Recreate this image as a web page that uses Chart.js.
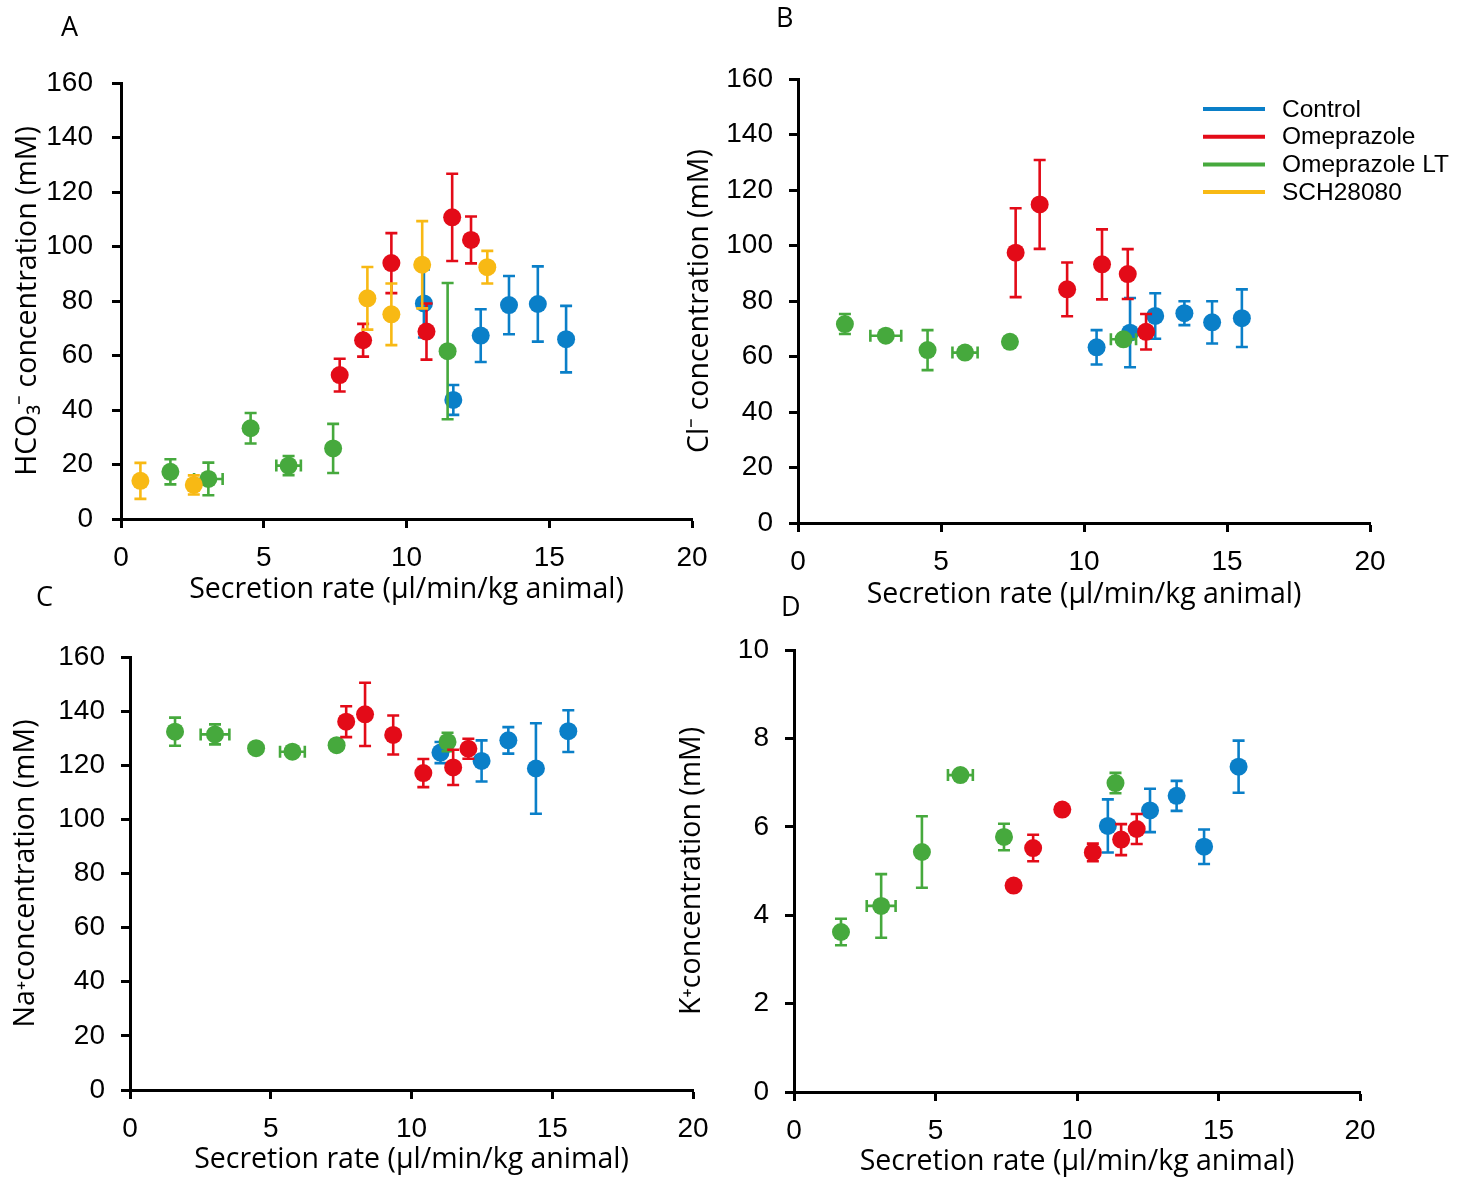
<!DOCTYPE html>
<html>
<head>
<meta charset="utf-8">
<title>Secretion rate vs ion concentration</title>
<script src="https://cdn.jsdelivr.net/npm/chart.js@4.4.1/dist/chart.umd.min.js"></script>
<style>
  body { margin: 0; background: #fff; width: 1464px; height: 1179px; position: relative; overflow: hidden; }
  canvas { position: absolute; }
  .tag { position: absolute; font-family: 'Open Sans', sans-serif; font-size: 27px; line-height: 1; color: #000; }
</style>
</head>
<body>
<canvas id="panelA" width="732" height="620" style="left:0;top:0"></canvas>
<canvas id="panelB" width="794" height="620" style="left:670px;top:0"></canvas>
<canvas id="panelC" width="732" height="579" style="left:0;top:600px"></canvas>
<canvas id="panelD" width="804" height="579" style="left:660px;top:600px"></canvas>
<div class="tag" style="left:61px;top:12px">A</div>
<div class="tag" style="left:776px;top:3px">B</div>
<div class="tag" style="left:36px;top:582px">C</div>
<div class="tag" style="left:781px;top:592px">D</div>
<script>
// series: Control, Omeprazole, Omeprazole LT, SCH28080
const seriesNames = ['Control', 'Omeprazole', 'Omeprazole LT', 'SCH28080'];
const seriesColors = ['#0a7fc8', '#e30b18', '#46a93d', '#f8b914'];

const rateTicks = [0, 5, 10, 15, 20];

// each row: [secretion rate, concentration, conc error, rate error]
// A - HCO3-
const hco3Control = [[10.61, 79.1, 12.5, 0], [11.64, 43.7, 5.5, 0], [12.6, 67.3, 9.7, 0], [13.59, 78.5, 10.7, 0], [14.6, 78.9, 13.8, 0], [15.59, 66.0, 12.2, 0]];
const hco3Omep = [[7.66, 52.8, 6, 0], [8.48, 65.6, 6, 0], [9.47, 93.9, 11, 0], [10.7, 68.8, 10.3, 0], [11.6, 110.7, 16, 0], [12.26, 102.4, 8.6, 0]];
const hco3OmepLT = [[1.73, 17.3, 4.6, 0], [3.06, 14.7, 6, 0.5], [4.54, 33.3, 5.6, 0], [5.87, 19.6, 3.5, 0.43], [7.43, 25.9, 9, 0], [11.44, 61.6, 25, 0]];
const hco3Sch = [[0.68, 14.0, 6.6, 0], [2.55, 12.5, 3.5, 0], [8.63, 81.0, 11.5, 0], [9.47, 75.1, 11.3, 0], [10.55, 93.3, 16, 0], [12.83, 92.4, 6, 0]];

// B - Cl-
const clControl = [[10.44, 63.3, 6.2, 0], [11.61, 68.6, 12.5, 0], [12.49, 74.6, 8.2, 0], [13.51, 75.6, 4.3, 0], [14.48, 72.3, 7.6, 0], [15.52, 73.8, 10.4, 0]];
const clOmep = [[7.61, 97.4, 16, 0], [8.45, 114.8, 16, 0], [9.41, 84.2, 9.7, 0], [10.63, 93.2, 12.6, 0], [11.53, 89.7, 9, 0], [12.17, 68.9, 6.4, 0]];
const clOmepLT = [[1.64, 71.7, 3.6, 0], [3.07, 67.5, 0, 0.54], [4.53, 62.3, 7.2, 0], [5.84, 61.4, 0, 0.44], [7.41, 65.3, 0, 0], [11.38, 66.2, 0, 0.44]];

// C - Na+
const naControl = [[11.03, 124.7, 3.9, 0], [12.49, 121.6, 7.6, 0], [13.44, 129.2, 4.9, 0], [14.42, 118.8, 16.7, 0], [15.57, 132.6, 7.7, 0]];
const naOmep = [[7.68, 136.1, 5.7, 0], [8.35, 138.8, 11.7, 0], [9.35, 131.2, 7.2, 0], [10.42, 117.1, 5.2, 0], [11.48, 119.2, 6.5, 0], [12.02, 126.1, 3.7, 0]];
const naOmepLT = [[1.6, 132.4, 5.2, 0], [3.02, 131.4, 3.7, 0.51], [4.48, 126.3, 1.5, 0], [5.77, 125.0, 0, 0.44], [7.34, 127.4, 1.5, 0], [11.28, 128.6, 3.4, 0]];

// D - K+
const kControl = [[11.09, 6.02, 0.6, 0], [12.58, 6.37, 0.49, 0], [13.52, 6.7, 0.34, 0], [14.49, 5.55, 0.39, 0], [15.71, 7.36, 0.59, 0]];
const kOmep = [[7.76, 4.67, 0, 0], [8.45, 5.52, 0.3, 0], [9.48, 6.39, 0, 0], [10.56, 5.42, 0.2, 0], [11.56, 5.71, 0.35, 0], [12.11, 5.95, 0.34, 0]];
const kOmepLT = [[1.66, 3.62, 0.3, 0], [3.08, 4.21, 0.72, 0.51], [4.52, 5.43, 0.81, 0], [5.88, 7.17, 0, 0.44], [7.42, 5.77, 0.3, 0], [11.36, 6.99, 0.23, 0]];

const tickFont = { family: "'Liberation Sans', Arial, sans-serif", size: 28 };
const titleFont = { family: "'Open Sans', sans-serif", size: 28.5 };

// error bars, drawn right before each dataset's points
const errorBars = {
  id: 'errorBars',
  beforeDatasetDraw(chart, args) {
    const ds = chart.data.datasets[args.index];
    const xs = chart.scales.x, ys = chart.scales.y;
    const ctx = chart.ctx;
    const cap = 6;
    ctx.save();
    ctx.strokeStyle = ds.backgroundColor;
    ctx.lineWidth = 2.6;
    ds.data.forEach(p => {
      const px = xs.getPixelForValue(p.x), py = ys.getPixelForValue(p.y);
      ctx.beginPath();
      if (p.yErr) {
        const t = ys.getPixelForValue(p.y + p.yErr), b = ys.getPixelForValue(p.y - p.yErr);
        ctx.moveTo(px, t); ctx.lineTo(px, b);
        ctx.moveTo(px - cap, t); ctx.lineTo(px + cap, t);
        ctx.moveTo(px - cap, b); ctx.lineTo(px + cap, b);
      }
      if (p.xErr) {
        const l = xs.getPixelForValue(p.x - p.xErr), r = xs.getPixelForValue(p.x + p.xErr);
        ctx.moveTo(l, py); ctx.lineTo(r, py);
        ctx.moveTo(l, py - cap); ctx.lineTo(l, py + cap);
        ctx.moveTo(r, py - cap); ctx.lineTo(r, py + cap);
      }
      ctx.stroke();
    });
    ctx.restore();
  }
};

// legend only on panel B
const lineLegend = {
  id: 'lineLegend',
  afterDraw(chart, args, opts) {
    if (!opts.show) return;
    const ctx = chart.ctx;
    ctx.save();
    ctx.font = "24.5px 'Liberation Sans', Arial, sans-serif";
    ctx.textBaseline = 'middle';
    seriesNames.forEach((name, i) => {
      const y = opts.y + i * opts.gap;
      ctx.strokeStyle = seriesColors[i];
      ctx.lineWidth = 4;
      ctx.beginPath();
      ctx.moveTo(opts.x, y);
      ctx.lineTo(opts.x + 62, y);
      ctx.stroke();
      ctx.fillStyle = '#000';
      ctx.fillText(name, opts.x + 79, y + 1);
    });
    ctx.restore();
  }
};

function toPoints(rows) {
  return rows.map(r => ({ x: r[0], y: r[1], yErr: r[2], xErr: r[3] }));
}

function makePanel(id, series, p) {
  // draw order: Control at bottom, SCH28080 on top
  const drawOrder = [4, 2, 3, 1];
  const datasets = series.map(s => ({
    label: seriesNames[s.idx],
    data: toPoints(s.rows),
    backgroundColor: seriesColors[s.idx],
    borderWidth: 0,
    pointRadius: 9,
    pointHoverRadius: 9,
    order: drawOrder[s.idx]
  }));
  new Chart(document.getElementById(id), {
    type: 'scatter',
    data: { datasets },
    plugins: [errorBars, lineLegend],
    options: {
      responsive: false,
      animation: false,
      devicePixelRatio: 1,
      layout: { padding: { top: p.top, right: p.right, left: 0, bottom: 0 } },
      plugins: {
        legend: { display: false },
        tooltip: { enabled: false },
        lineLegend: p.legend || { show: false }
      },
      scales: {
        x: {
          type: 'linear', min: 0, max: 20,
          afterBuildTicks: s => { s.ticks = rateTicks.map(v => ({ value: v })); },
          grid: { drawOnChartArea: false, drawTicks: true, tickLength: 9, tickWidth: 3, tickColor: '#000' },
          border: { color: '#000', width: 3 },
          ticks: { color: '#000', font: tickFont, padding: 13, maxRotation: 0 },
          title: { display: true, text: 'Secretion rate (µl/min/kg animal)', color: '#000', font: titleFont, padding: { top: 0, bottom: p.xTitlePad } },
          afterFit: s => { s.height = p.xHeight; s.paddingLeft = 0; s.paddingRight = 0; }
        },
        y: {
          type: 'linear', min: 0, max: p.yMax,
          ticks: { stepSize: p.yStep, color: '#000', font: tickFont, padding: p.yTickPad },
          grid: { drawOnChartArea: false, drawTicks: true, tickLength: 9, tickWidth: 3, tickColor: '#000' },
          border: { color: '#000', width: 3 },
          title: { display: true, text: p.yTitle, color: '#000', font: titleFont, padding: { top: p.yTitlePad, bottom: 0 } },
          afterFit: s => { s.width = p.yWidth; s.paddingTop = 0; s.paddingBottom = 0; }
        }
      }
    }
  });
}

makePanel('panelA', [
  { idx: 0, rows: hco3Control }, { idx: 1, rows: hco3Omep },
  { idx: 2, rows: hco3OmepLT }, { idx: 3, rows: hco3Sch }
], { top: 83, right: 40, yWidth: 121, xHeight: 101, yMax: 160, yStep: 20, yTickPad: 19,
     yTitle: 'HCO₃⁻ concentration (mM)', yTitlePad: 11, xTitlePad: 13 });

makePanel('panelB', [
  { idx: 0, rows: clControl }, { idx: 1, rows: clOmep }, { idx: 2, rows: clOmepLT }
], { top: 79, right: 94, yWidth: 128, xHeight: 97, yMax: 160, yStep: 20, yTickPad: 16,
     yTitle: 'Cl⁻ concentration (mM)', yTitlePad: 13, xTitlePad: 8,
     legend: { show: true, x: 533, y: 109, gap: 27.7 } });

makePanel('panelC', [
  { idx: 0, rows: naControl }, { idx: 1, rows: naOmep }, { idx: 2, rows: naOmepLT }
], { top: 57, right: 39, yWidth: 130, xHeight: 89, yMax: 160, yStep: 20, yTickPad: 16,
     yTitle: 'Na⁺concentration (mM)', yTitlePad: 9, xTitlePad: 2 });

makePanel('panelD', [
  { idx: 0, rows: kControl }, { idx: 1, rows: kOmep }, { idx: 2, rows: kOmepLT }
], { top: 50, right: 104, yWidth: 134, xHeight: 87, yMax: 10, yStep: 2, yTickPad: 16,
     yTitle: 'K⁺concentration (mM)', yTitlePad: 15, xTitlePad: 0 });
</script>
</body>
</html>
